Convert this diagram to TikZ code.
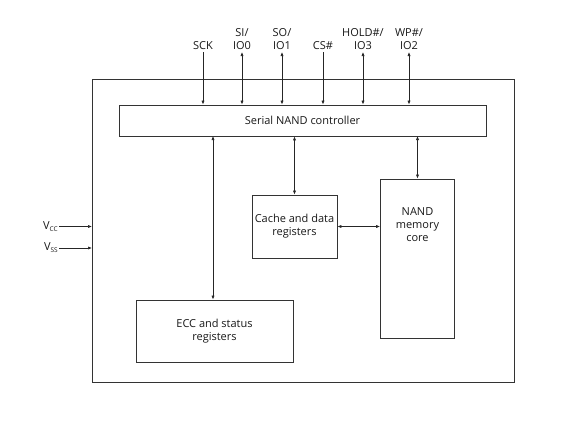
\documentclass[tikz,border=0pt]{standalone}
\usepackage{fontspec}
\setmainfont{Open Sans}
\usetikzlibrary{arrows.meta}
\tikzset{
  blk/.style={draw=black!80, line width=0.8pt, inner sep=0pt},
  lbl/.style={font=\fontsize{11}{13}\selectfont, align=center, text=black!90},
  conn/.style={draw=black!85, line width=0.7pt},
  tip/.style={-{Latex[length=4pt,width=3.2pt]}},
  btip/.style={{Latex[length=4pt,width=3.2pt]}-{Latex[length=4pt,width=3.2pt]}},
}
\begin{document}
\begin{tikzpicture}[x=1pt,y=-1pt]
\useasboundingbox[fill=white] (0,0) rectangle (563,423);
% outer box
\draw[blk] (92,79) rectangle (514,382);
% blocks
\node[blk, minimum width=367pt, minimum height=31pt, lbl] (ctrl) at (302.5,120.5) {Serial NAND controller};
\node[blk, minimum width=85pt, minimum height=63pt, lbl] (cache) at (294.5,226.5) {Cache and data\\registers};
\node[blk, minimum width=74pt, minimum height=159pt] (core) at (417.5,258.5) {};
\node[lbl, anchor=north] (coretxt) at (417.5,204) {NAND\\memory\\core};
\node[blk, minimum width=157pt, minimum height=62pt, lbl] (ecc) at (214.5,331) {ECC and status\\registers};
% top pins
\node[lbl, anchor=south, inner sep=2pt] (sck) at (203,52) {SCK};
\node[lbl, anchor=south, inner sep=2pt] (si) at (242,52) {SI/\\IO0};
\node[lbl, anchor=south, inner sep=2pt] (so) at (282,52) {SO/\\IO1};
\node[lbl, anchor=south, inner sep=2pt] (cs) at (323,52) {CS\#};
\node[lbl, anchor=south, inner sep=2pt] (hold) at (363,52) {HOLD\#/\\IO3};
\node[lbl, anchor=south, inner sep=2pt] (wp) at (409,52) {WP\#/\\IO2};
\draw[conn, tip] (sck.south) -- (sck.south |- ctrl.north);
\draw[conn, btip] (si.south) -- (si.south |- ctrl.north);
\draw[conn, btip] (so.south) -- (so.south |- ctrl.north);
\draw[conn, tip] (cs.south) -- (cs.south |- ctrl.north);
\draw[conn, btip] (hold.south) -- (hold.south |- ctrl.north);
\draw[conn, btip] (wp.south) -- (wp.south |- ctrl.north);
% internal
\coordinate (e1) at (213,136);
\draw[conn, btip] (e1) -- (e1 |- ecc.north);
\draw[conn, btip] (cache.north |- ctrl.south) -- (cache.north);
\coordinate (n1) at (417.5,136);
\draw[conn, btip] (n1) -- (core.north);
\draw[conn, btip] (cache.east) -- (cache.east -| core.west);
% power
\node[lbl, anchor=east, inner sep=1pt] (vcc) at (59,226.5) {V\raisebox{-2pt}{\fontsize{6.5}{7}\selectfont CC}};
\node[lbl, anchor=east, inner sep=1pt] (vss) at (59,248) {V\raisebox{-2pt}{\fontsize{6.5}{7}\selectfont SS}};
\coordinate (bl) at (92,226.5);
\draw[conn, tip] (vcc.east) -- (vcc.east -| bl);
\draw[conn, tip] (vss.east) -- (vss.east -| bl);
\end{tikzpicture}
\end{document}
